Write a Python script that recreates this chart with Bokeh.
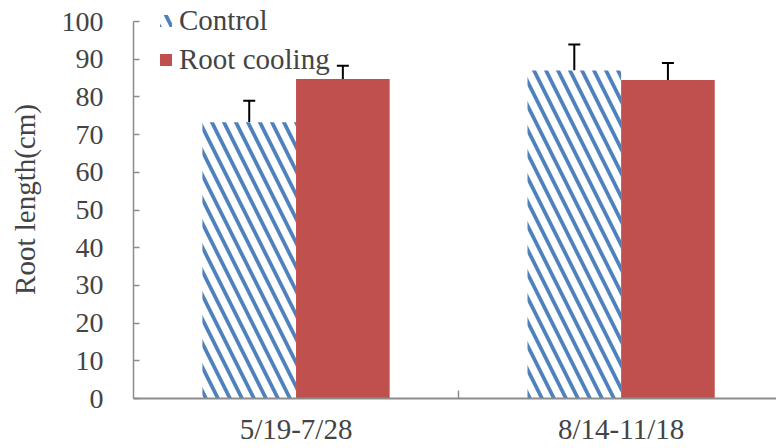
from bokeh.plotting import figure
from bokeh.models import Range1d, FixedTicker, Whisker, TeeHead, ColumnDataSource, Legend, LegendItem
from bokeh.embed import file_html
from bokeh.resources import INLINE

categories = ["5/19-7/28", "8/14-11/18"]
control = [73.3, 87.0]
control_err = [5.7, 6.9]
cooling = [84.8, 84.5]
cooling_err = [3.5, 4.5]
y_ticks = [0, 10, 20, 30, 40, 50, 60, 70, 80, 90, 100]

FONT = "Liberation Serif"
AXIS_COLOR = "#8c8c8c"
BLUE = "#4f81bd"
RED = "#c0504d"

centers = [i + 0.5 for i in range(len(categories))]
bw = 0.288
x_ctrl = [c - bw / 2 for c in centers]
x_cool = [c + bw / 2 for c in centers]

p = figure(width=776, height=448, output_backend="svg", toolbar_location=None,
           x_range=Range1d(0, 1.978), y_range=Range1d(0, 105.6),
           min_border_left=133, min_border_right=0, min_border_top=0, min_border_bottom=50)
p.outline_line_color = None
p.xgrid.visible = False
p.ygrid.visible = False
p.background_fill_color = "white"

src_c = ColumnDataSource(dict(x=x_ctrl, top=control, up=[v + e for v, e in zip(control, control_err)]))
src_r = ColumnDataSource(dict(x=x_cool, top=cooling, up=[v + e for v, e in zip(cooling, cooling_err)]))

r_c = p.vbar(x="x", top="top", width=bw, source=src_c, fill_color="white", line_color=None,
             hatch_pattern="\\", hatch_color=BLUE, hatch_scale=24, hatch_weight=3.8)
r_r = p.vbar(x="x", top="top", width=bw, source=src_r, fill_color=RED, line_color=None)

for src in (src_c, src_r):
    w = Whisker(source=src, base="x", lower="top", upper="up", line_color="black", line_width=2,
                upper_head=TeeHead(size=12, line_color="black", line_width=2), lower_head=None)
    p.add_layout(w)

# y axis
p.yaxis.ticker = FixedTicker(ticks=y_ticks)
p.yaxis.bounds = (0, 100)
p.yaxis.axis_label = "Root length(cm)"
p.yaxis.axis_label_text_font = FONT
p.yaxis.axis_label_text_font_size = "29px"
p.yaxis.axis_label_text_font_style = "normal"
p.yaxis.axis_label_standoff = 18
p.yaxis.major_label_text_font = FONT
p.yaxis.major_label_text_font_size = "28px"
p.yaxis.major_label_standoff = 30
p.yaxis.major_tick_in = 6
p.yaxis.major_tick_out = 0
p.yaxis.minor_tick_line_color = None
p.yaxis.axis_line_color = AXIS_COLOR
p.yaxis.axis_line_width = 1.5
p.yaxis.major_tick_line_color = AXIS_COLOR
p.yaxis.major_tick_line_width = 1.5

# x axis
p.xaxis.ticker = FixedTicker(ticks=centers, minor_ticks=[1.0])
p.xaxis.major_label_overrides = {c: lab for c, lab in zip(centers, categories)}
p.xaxis.major_label_text_font = FONT
p.xaxis.major_label_text_font_size = "29px"
p.xaxis.major_label_standoff = 8
p.xaxis.major_tick_line_color = None
p.xaxis.minor_tick_in = 8
p.xaxis.minor_tick_out = 0
p.xaxis.minor_tick_line_color = AXIS_COLOR
p.xaxis.minor_tick_line_width = 1.5
p.xaxis.axis_line_color = AXIS_COLOR
p.xaxis.axis_line_width = 2

legend = Legend(items=[LegendItem(label="Control", renderers=[r_c]),
                       LegendItem(label="Root cooling", renderers=[r_r])],
                location=(25, 322))
legend.label_text_font = FONT
legend.label_text_font_size = "29px"
legend.glyph_width = 15
legend.glyph_height = 15
legend.label_standoff = 6
legend.spacing = 6
legend.padding = 0
legend.margin = 0
legend.border_line_color = None
legend.background_fill_alpha = 0
p.add_layout(legend, "center")

open("out.html", "w").write(file_html(p, INLINE))
